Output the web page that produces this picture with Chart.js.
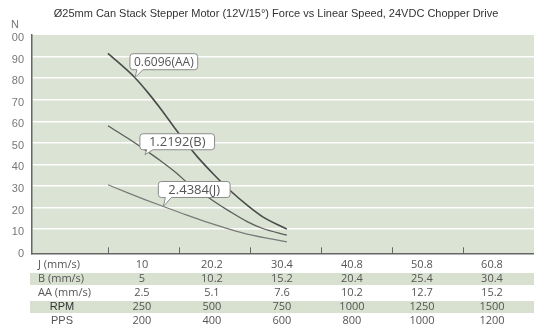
<!DOCTYPE html>
<html>
<head>
<meta charset="utf-8">
<title>Force vs Linear Speed</title>
<script src="https://cdn.jsdelivr.net/npm/chart.js@4.4.1/dist/chart.umd.min.js"></script>
<style>
  body { margin: 0; background: #fff; }
  canvas { display: block; }
</style>
</head>
<body>
<canvas id="graficoForca" width="534" height="332"></canvas>
<script>
const chartTitle = "Ø25mm Can Stack Stepper Motor (12V/15°) Force vs Linear Speed, 24VDC Chopper Drive";
const yUnit = "N";

// force curves, x in RPM, y in N
const aaRpm = [125, 220, 265, 315, 360, 405, 440, 495, 555, 615, 670, 755];
const aaForce = [91.5, 80.2, 73.4, 65, 56.9, 49.1, 43.5, 35.7, 27.9, 21.1, 15.7, 10];
const bRpm = [125, 195, 255, 310, 370, 405, 495, 555, 615, 670, 755];
const bForce = [57.9, 52.1, 46.8, 41.7, 35.6, 31.4, 23.2, 18.1, 13.5, 10.3, 7.2];
const jRpm = [125, 195, 255, 320, 380, 465, 555, 615, 755];
const jForce = [30.6, 26.8, 23.7, 20.5, 17.6, 13.6, 9.9, 7.7, 4.1];
const curveNames = ["0.6096(AA)", "1.2192(B)", "2.4384(J)"];

// speed table under the plot
const rowNames = ["J (mm/s)", "B (mm/s)", "AA (mm/s)", "RPM", "PPS"];
const rpmCols = [250, 500, 750, 1000, 1250, 1500];
const speedJ = ["10", "20.2", "30.4", "40.8", "50.8", "60.8"];
const speedB = ["5", "10.2", "15.2", "20.4", "25.4", "30.4"];
const speedAA = ["2.5", "5.1", "7.6", "10.2", "12.7", "15.2"];
const ppsCols = ["200", "400", "600", "800", "1000", "1200"];

const yTicks = [0, 10, 20, 30, 40, 50, 60, 70, 80, 90, 100];
const yTickText = ["0", "10", "20", "30", "40", "50", "60", "70", "80", "90", "00"];
const xTickMarks = [125, 375, 625, 875, 1125, 1375];

const pts = (xs, ys) => xs.map((x, i) => ({ x: x, y: ys[i] }));

// callout boxes: which point the tail touches and how they look
const callouts = [
  { ds: 0, idx: 1, size: 12, pad: 4, tail: 8, drop: 0 },
  { ds: 1, idx: 2, size: 13, pad: 9, tail: 5, drop: 5 },
  { ds: 2, idx: 3, size: 13, pad: 10, tail: 9, drop: 0 }
];

const plotBg = {
  id: "plotBg",
  beforeDraw(chart) {
    const { ctx, chartArea: a } = chart;
    ctx.save();
    ctx.fillStyle = "#dbe3d4";
    ctx.fillRect(a.left, a.top, a.right - a.left, a.bottom - a.top);
    ctx.restore();
  }
};

const calloutPlugin = {
  id: "callouts",
  afterDatasetsDraw(chart) {
    const ctx = chart.ctx;
    callouts.forEach((c) => {
      const p = chart.getDatasetMeta(c.ds).data[c.idx];
      const tipX = p.x, tipY = p.y + c.drop;
      const text = curveNames[c.ds];
      ctx.save();
      ctx.font = c.size + "px 'Open Sans'";
      const w = ctx.measureText(text).width + c.pad * 2;
      const h = 16;
      const l = tipX - 5, b = tipY - c.tail, t = b - h, r = l + w, rad = 3;
      ctx.beginPath();
      ctx.moveTo(l + rad, t);
      ctx.lineTo(r - rad, t);
      ctx.quadraticCurveTo(r, t, r, t + rad);
      ctx.lineTo(r, b - rad);
      ctx.quadraticCurveTo(r, b, r - rad, b);
      ctx.lineTo(l + 13, b);
      ctx.lineTo(tipX, tipY);
      ctx.lineTo(l + 7, b);
      ctx.lineTo(l + rad, b);
      ctx.quadraticCurveTo(l, b, l, b - rad);
      ctx.lineTo(l, t + rad);
      ctx.quadraticCurveTo(l, t, l + rad, t);
      ctx.closePath();
      ctx.fillStyle = "#ffffff";
      ctx.fill();
      ctx.strokeStyle = "#8c8c8c";
      ctx.lineWidth = 1;
      ctx.stroke();
      ctx.fillStyle = "#555";
      ctx.textAlign = "center";
      ctx.textBaseline = "middle";
      ctx.fillText(text, (l + r) / 2, t + h / 2 + 0.5);
      ctx.restore();
    });
  }
};

const tablePlugin = {
  id: "speedTable",
  afterDraw(chart) {
    const { ctx, scales, chartArea } = chart;
    const left = chartArea.left;
    const colX = (v) => left + (scales.x.getPixelForValue(v) - left) * 0.986;
    const rowY = [265, 279, 293, 307, 321];
    const rows = [speedJ, speedB, speedAA, rpmCols.map(String), ppsCols];

    ctx.save();
    ctx.direction = "ltr";
    // tick marks point up into the plot
    ctx.strokeStyle = "#666";
    ctx.lineWidth = 1;
    xTickMarks.forEach((v) => {
      const x = Math.round(scales.x.getPixelForValue(v)) + 0.5;
      ctx.beginPath();
      ctx.moveTo(x, chartArea.bottom);
      ctx.lineTo(x, chartArea.bottom - 6);
      ctx.stroke();
    });

    // title and unit
    ctx.textBaseline = "middle";
    ctx.fillStyle = "#333";
    ctx.font = "11px 'Liberation Sans'";
    ctx.textAlign = "center";
    ctx.fillText(chartTitle, 276, 14);
    ctx.fillStyle = "#777";
    ctx.textAlign = "left";
    ctx.fillText(yUnit, 11, 25);

    // shaded rows
    ctx.fillStyle = "#d8e1d0";
    [1, 3].forEach((i) => ctx.fillRect(30, rowY[i] - 6, 504, 12));

    rows.forEach((vals, i) => {
      const y = rowY[i];
      if (i < 3) {
        ctx.font = "11px 'Open Sans'";
        ctx.fillStyle = "#555";
        ctx.textAlign = "left";
        ctx.fillText(rowNames[i], 38, y);
      } else {
        ctx.font = "11px 'Liberation Sans'";
        ctx.fillStyle = i === 3 ? "#333" : "#555";
        ctx.textAlign = "center";
        ctx.fillText(rowNames[i], 62, y);
      }
      ctx.font = "11px 'Open Sans'";
      ctx.fillStyle = "#555";
      ctx.textAlign = "center";
      vals.forEach((v, k) => ctx.fillText(v, colX(rpmCols[k]), y));
    });
    ctx.restore();
  }
};

new Chart(document.getElementById("graficoForca").getContext("2d"), {
  type: "line",
  data: {
    datasets: [{
      label: curveNames[0],
      data: pts(aaRpm, aaForce),
      borderColor: "#4a4a4a",
      borderWidth: 1.6
    }, {
      label: curveNames[1],
      data: pts(bRpm, bForce),
      borderColor: "#5c5c5c",
      borderWidth: 1.3
    }, {
      label: curveNames[2],
      data: pts(jRpm, jForce),
      borderColor: "#7a7a7a",
      borderWidth: 1.2
    }]
  },
  options: {
    responsive: false,
    animation: false,
    elements: {
      point: { radius: 0 },
      line: { cubicInterpolationMode: "monotone", fill: false }
    },
    layout: { padding: { top: 35, left: 0, right: 0, bottom: 0 } },
    plugins: {
      legend: { display: false },
      title: { display: false },
      tooltip: { enabled: false }
    },
    scales: {
      x: {
        type: "linear",
        min: -142.5,
        max: 1625,
        afterBuildTicks: (s) => { s.ticks = xTickMarks.map((v) => ({ value: v })); },
        afterFit: (s) => { s.height = 78.7; },
        ticks: { display: false },
        grid: { display: false },
        border: { display: true, color: "#666", width: 1.5 }
      },
      y: {
        min: -1.2,
        max: 100,
        afterBuildTicks: (s) => { s.ticks = yTicks.map((v) => ({ value: v })); },
        afterFit: (s) => { s.width = 32; },
        ticks: {
          autoSkip: false,
          callback: (v, i) => yTickText[i],
          color: "#777",
          font: { family: "'Liberation Sans'", size: 11 },
          padding: 8,
          labelOffset: 3
        },
        grid: {
          drawTicks: false,
          lineWidth: 1.5,
          color: (c) => (c.tick && c.tick.value > 0 && c.tick.value < 100) ? "rgba(255,255,255,0.95)" : "rgba(0,0,0,0)"
        },
        border: { color: "#666", width: 1.5 }
      }
    }
  },
  plugins: [plotBg, calloutPlugin, tablePlugin]
});
</script>
</body>
</html>
